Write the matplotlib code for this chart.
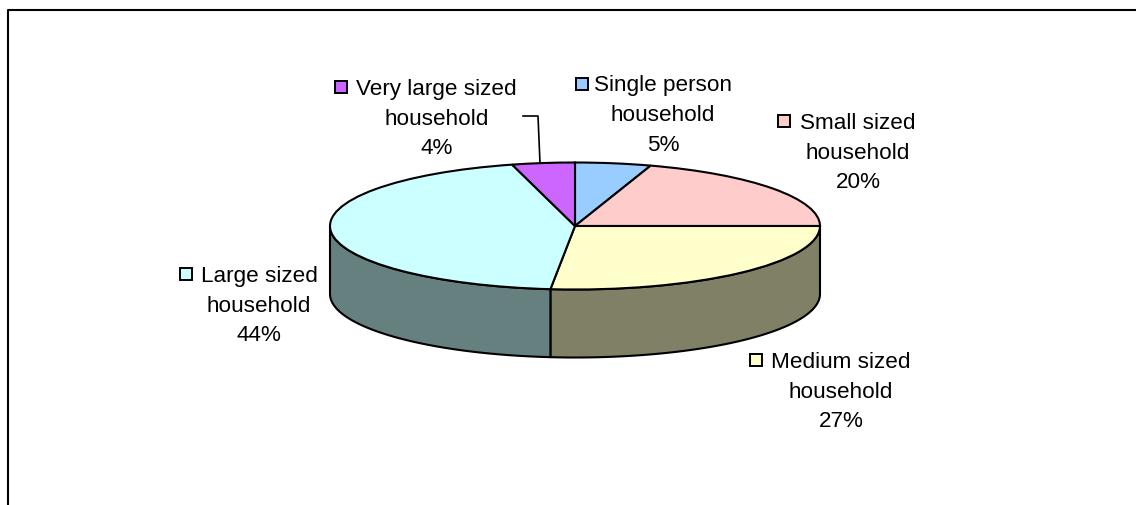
import numpy as np
import matplotlib
matplotlib.use('Agg')
import matplotlib.pyplot as plt
from matplotlib.lines import Line2D
from matplotlib.patches import Rectangle

plt.rcParams['font.family'] = ['Liberation Sans', 'DejaVu Sans']

categories = ['Single person\nhousehold', 'Small sized\nhousehold', 'Medium sized\nhousehold',
              'Large sized\nhousehold', 'Very large sized\nhousehold']
values = [5.0, 20.0, 26.6, 44.27, 4.13]
colors = ['#99CCFF', '#FFCCCC', '#FFFFCC', '#CCFFFF', '#CC66FF']
side_colors = ['#4D6680', '#806666', '#808066', '#668080', '#663380']

W, H = 1136, 506
cx, cy = 575, 227
rx, ry = 245, 63.5
depth = 68 / ry

fig = plt.figure(figsize=(W / 100, H / 100), dpi=100)
ax = fig.add_axes([0, 0, 1, 1])

# clockwise angle from 12 o'clock
edges = np.cumsum([0] + values) / sum(values) * 2 * np.pi

# side wall, only the front half (90..270 deg clockwise) shows
for i in range(len(values)):
    a0 = max(edges[i], np.pi / 2)
    a1 = min(edges[i + 1], 3 * np.pi / 2)
    if a1 <= a0:
        continue
    t = np.linspace(a0, a1, 120)
    x = np.sin(t)
    y = np.cos(t)
    ax.fill(np.r_[x, x[::-1]], np.r_[y, y[::-1] - depth], facecolor=side_colors[i],
            edgecolor='black', lw=1.5, joinstyle='round', zorder=1)

wedges, _ = ax.pie(values, colors=colors, startangle=90, counterclock=False,
                   wedgeprops={'edgecolor': 'black', 'linewidth': 1.5})
for w in wedges:
    w.set_zorder(2)
ax.set_aspect('auto')
ax.set_xlim(-cx / rx, (W - cx) / rx)
ax.set_ylim((cy - H) / ry, cy / ry)
ax.axis('off')


def px(x, y):
    return x / W, 1 - y / H


# label layout: text centre x, first line y, key x, key y
layout = [(663, 86, 581.5, 84.5), (858, 123.5, 784, 122), (841, 362.5, 756, 361),
          (259, 276.5, 186, 275), (436.5, 89.5, 340.5, 87.5)]
for i, (tx, ty, kx, ky) in enumerate(layout):
    lines = categories[i].split('\n') + ['%.0f%%' % values[i]]
    for j, s in enumerate(lines):
        fig.text(*px(tx, ty + j * 29.7), s, fontsize=16.2, color='black', ha='center', va='center')
    fig.add_artist(Rectangle(px(kx - 6, ky + 6), 12 / W, 12 / H, transform=fig.transFigure,
                             facecolor=colors[i], edgecolor='black', lw=1.4))

# leader line of the smallest slice
fig.add_artist(Line2D([523 / W, 538 / W, 540 / W], [1 - 117 / H, 1 - 117 / H, 1 - 164 / H],
                      color='black', lw=1.2))

# chart frame, cut off at right and bottom
fig.add_artist(Line2D([8 / W, 8 / W, 1.01], [-0.01, 1 - 10.5 / H, 1 - 10.5 / H], color='black', lw=1.5))

fig.savefig('out.png', dpi=100)
